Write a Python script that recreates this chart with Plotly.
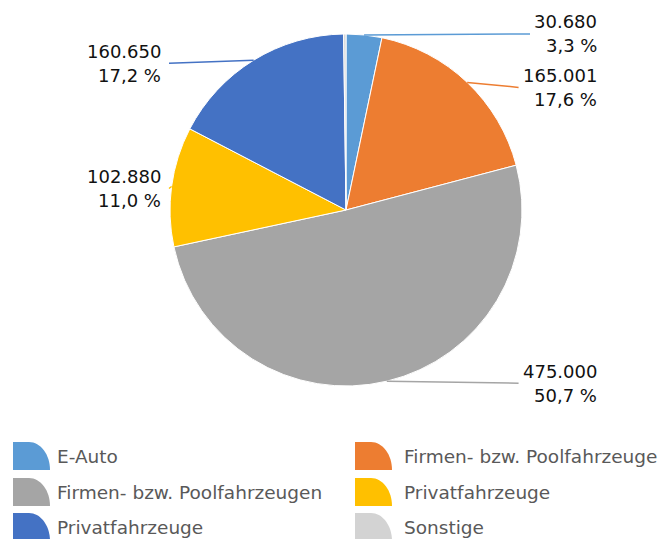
import math
import plotly.graph_objects as go

# ---- data ----
categories = ["E-Auto", "Firmen- bzw. Poolfahrzeuge", "Firmen- bzw. Poolfahrzeugen",
              "Privatfahrzeuge", "Privatfahrzeuge", "Sonstige"]
values = [30680, 165001, 475000, 102880, 160650, 2000]
show_label = [True, True, True, True, True, False]

# ---- styles / layout ----
colors = ["#5B9BD5", "#ED7D31", "#A5A5A5", "#FFC000", "#4472C4", "#D3D3D3"]
W, H = 666, 539
CX, CY, R = 346, 210, 176
LABEL_FONT = "DejaVu Sans"
LABEL_SIZE = 18
LEGEND_SIZE = 18.5
label_dy = [-1, 5, 2, 2, 3]          # small vertical nudges of label blocks
RIGHT_LABEL_X, LEFT_LABEL_X = 599, 163
LINE_GAP = 12                        # half distance between the two label lines


def px(x):
    return x / W


def py(y):
    return 1 - y / H


def fmt_num(v):
    return f"{v:,}".replace(",", ".")


def fmt_pct(p):
    return f"{p:.1f}".replace(".", ",") + " %"


def text_w(s, size):
    w = 0
    for ch in s:
        if ch.isdigit():
            w += 0.636
        elif ch in ".,":
            w += 0.318
        elif ch == " ":
            w += 0.318
        else:
            w += 0.84
    return w * size


total = sum(values)

fig = go.Figure()
fig.add_trace(go.Pie(
    labels=[f"{c}_{i}" for i, c in enumerate(categories)],
    values=values,
    sort=False,
    direction="clockwise",
    rotation=0,
    textinfo="none",
    hoverinfo="skip",
    showlegend=False,
    marker=dict(colors=colors, line=dict(color="white", width=1)),
    domain=dict(x=[px(CX - R), px(CX + R)], y=[py(CY + R), py(CY - R)]),
))

shapes = []
annotations = []

# ---- data labels with leader lines ----
cum = 0
li = 0
for i, v in enumerate(values):
    frac = v / total
    mid = (cum + frac / 2) * 2 * math.pi
    cum += frac
    if not show_label[i]:
        continue
    ex = CX + R * math.sin(mid)
    ey = CY - R * math.cos(mid)
    cy = ey + label_dy[li]
    li += 1
    s1 = fmt_num(v)
    s2 = fmt_pct(frac * 100)
    if math.sin(mid) >= 0:
        rx = RIGHT_LABEL_X
        lx = rx - max(text_w(s1, LABEL_SIZE), text_w(s2, LABEL_SIZE)) - 6
    else:
        rx = LEFT_LABEL_X
        lx = rx + 6
    shapes.append(dict(type="line", xref="paper", yref="paper",
                       x0=px(ex), y0=py(ey), x1=px(lx), y1=py(cy),
                       line=dict(color=colors[i], width=1.5), layer="above"))
    for s, yy in ((s1, cy - LINE_GAP), (s2, cy + LINE_GAP)):
        annotations.append(dict(text=s, x=px(rx), y=py(yy), xref="paper", yref="paper",
                                xanchor="right", yanchor="middle", showarrow=False,
                                font=dict(family=LABEL_FONT, size=LABEL_SIZE, color="#111111")))

# ---- custom legend with quarter-pie icons ----
LEG_ROWS = [456, 492, 527]
LEG_ICON_X = [13, 355]
LEG_TEXT_X = [55, 402]
IW, IH, FLAT = 37, 28, 16
for i, c in enumerate(categories):
    r, col = divmod(i, 2)
    yc = LEG_ROWS[r]
    x0 = LEG_ICON_X[col]
    yt, yb = yc - IH / 2, yc + IH / 2
    k = 0.5523
    rx_ = IW - FLAT
    c1 = (x0 + FLAT + k * rx_, yt)
    c2 = (x0 + IW, yb - k * IH)
    end = (x0 + IW, yb)
    path = (f"M {px(x0)},{py(yb)} L {px(x0)},{py(yt)} "
            f"L {px(x0 + FLAT)},{py(yt)} "
            f"C {px(c1[0])},{py(c1[1])} {px(c2[0])},{py(c2[1])} {px(end[0])},{py(end[1])} Z")
    shapes.append(dict(type="path", xref="paper", yref="paper", path=path,
                       fillcolor=colors[i], line=dict(width=0)))
    annotations.append(dict(text=c, x=px(LEG_TEXT_X[col]), y=py(yc), xref="paper", yref="paper",
                            xanchor="left", yanchor="middle", showarrow=False,
                            font=dict(family=LABEL_FONT, size=LEGEND_SIZE, color="#595959")))

fig.update_layout(
    width=W, height=H,
    margin=dict(l=0, r=0, t=0, b=0),
    paper_bgcolor="white", plot_bgcolor="white",
    shapes=shapes, annotations=annotations,
    showlegend=False,
)

fig.write_html("out.html",
               config={"displayModeBar": False, "staticPlot": True},
               post_script="document.body.style.margin='0';document.body.style.overflow='hidden';")
